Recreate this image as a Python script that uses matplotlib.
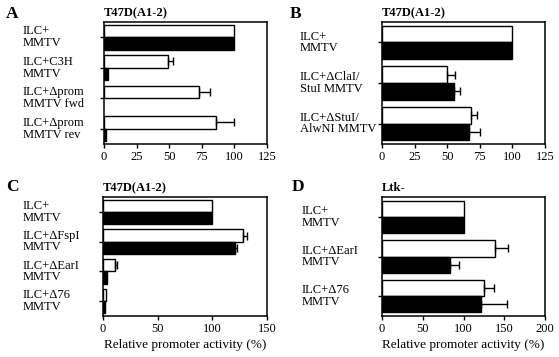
import numpy as np
import matplotlib
matplotlib.use("Agg")
import matplotlib.pyplot as plt
import matplotlib.transforms as mtransforms

plt.rcParams['font.family'] = ['Liberation Serif', 'DejaVu Serif']

W, H = 559, 357

# ---- data (white = open bars, black = filled bars) ----
labels_a = ["ILC+\nMMTV", "ILC+C3H\nMMTV", "ILC+\u0394prom\nMMTV fwd", "ILC+\u0394prom\nMMTV rev"]
white_a = [100, 49, 73, 86]
white_err_a = [0, 4, 8, 14]
black_a = [100, 3, 0, 1.5]
black_err_a = [0, 0, 0, 0]

labels_b = ["ILC+\nMMTV", "ILC+\u0394ClaI/\nStuI MMTV", "ILC+\u0394StuI/\nAlwNI MMTV"]
white_b = [100, 50, 68]
white_err_b = [0, 6, 5]
black_b = [100, 55, 67]
black_err_b = [0, 5, 8]

labels_c = ["ILC+\nMMTV", "ILC+\u0394FspI\nMMTV", "ILC+\u0394EarI\nMMTV", "ILC+\u039476\nMMTV"]
white_c = [100, 128, 11, 3]
white_err_c = [0, 4, 2, 0]
black_c = [100, 121, 3.5, 2]
black_err_c = [0, 1.5, 0, 0]

labels_d = ["ILC+\nMMTV", "ILC+\u0394EarI\nMMTV", "ILC+\u039476\nMMTV"]
white_d = [100, 139, 125]
white_err_d = [0, 16, 12]
black_d = [100, 83, 121]
black_err_d = [0, 12, 32]

fig = plt.figure(figsize=(W / 100, H / 100), dpi=100)
fig.patch.set_facecolor('white')


def make_axes(l, t, r, b):
    return fig.add_axes([l / W, 1 - b / H, (r - l) / W, (b - t) / H])


def panel(ax, labels, white, werr, black, berr, xmax, xticks, title, letter,
          letter_xy, label_x, xlabel=False):
    n = len(labels)
    y = np.arange(n)
    h = 0.41
    for yy, v, e in zip(y - h / 2, white, werr):
        ax.barh(yy, v, height=h, color='white', edgecolor='black', linewidth=1.0)
        if e > 0:
            ax.errorbar(v, yy, xerr=[[0], [e]], fmt='none', ecolor='black',
                        elinewidth=1.0, capsize=3, capthick=1.0)
    for yy, v, e in zip(y + h / 2, black, berr):
        if v > 0:
            ax.barh(yy, v, height=h, color='black', edgecolor='black', linewidth=1.0)
        if e > 0:
            ax.errorbar(v, yy, xerr=[[0], [e]], fmt='none', ecolor='black',
                        elinewidth=1.0, capsize=3, capthick=1.0)
    ax.set_ylim(n - 0.5, -0.5)
    ax.set_xlim(0, xmax)
    ax.set_xticks(xticks)
    ax.set_xticklabels([str(t) for t in xticks], fontsize=9)
    ax.set_yticks(y)
    ax.set_yticklabels([])
    ax.tick_params(axis='both', direction='out', length=3, width=1.0, pad=2)
    for s in ax.spines.values():
        s.set_linewidth(1.1)
    trans = mtransforms.blended_transform_factory(fig.transFigure, ax.transData)
    for yy, lab in zip(y, labels):
        ax.text(label_x / W, yy, lab, transform=trans, ha='left', va='center',
                fontsize=9, linespacing=0.95)
    ax.text(0.0, 1.025, title, transform=ax.transAxes, ha='left', va='bottom',
            fontsize=9, fontweight='bold')
    fig.text(letter_xy[0] / W, 1 - letter_xy[1] / H, letter, ha='left',
             va='center', fontsize=12.5, fontweight='bold')
    if xlabel:
        ax.set_xlabel("Relative promoter activity (%)", fontsize=9.5, labelpad=3)


ax_a = make_axes(104, 22, 267, 144)
panel(ax_a, labels_a, white_a, white_err_a, black_a, black_err_a, 125,
      [0, 25, 50, 75, 100, 125], "T47D(A1-2)", "A", (6, 14), 23)

ax_b = make_axes(382, 22, 545, 144)
panel(ax_b, labels_b, white_b, white_err_b, black_b, black_err_b, 125,
      [0, 25, 50, 75, 100, 125], "T47D(A1-2)", "B", (290, 14), 300)

ax_c = make_axes(103, 197, 267, 316)
panel(ax_c, labels_c, white_c, white_err_c, black_c, black_err_c, 150,
      [0, 50, 100, 150], "T47D(A1-2)", "C", (6, 187), 23, xlabel=True)

ax_d = make_axes(382, 197, 545, 316)
panel(ax_d, labels_d, white_d, white_err_d, black_d, black_err_d, 200,
      [0, 50, 100, 150, 200], "Ltk-", "D", (292, 187), 302, xlabel=True)

fig.savefig("out.png", dpi=100)
